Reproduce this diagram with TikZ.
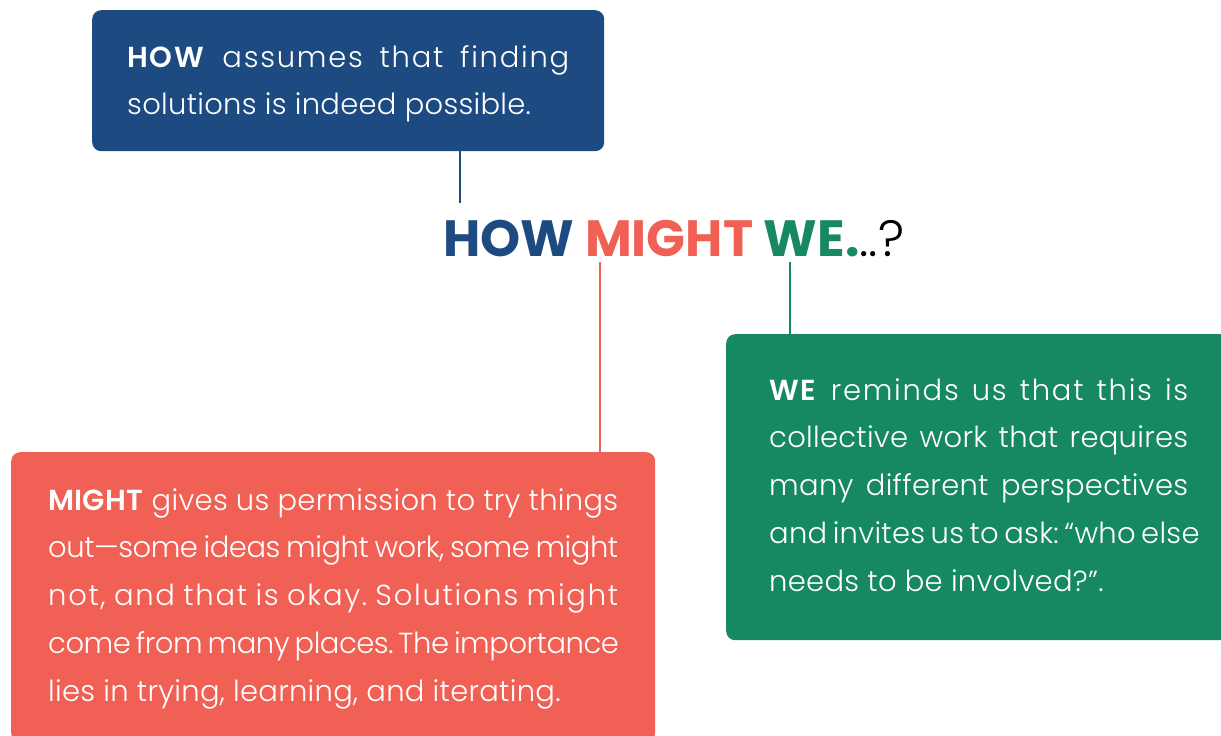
\documentclass[tikz,border=0pt]{standalone}
\usepackage{fontspec}
\setmainfont{Poppins}[UprightFont=* Light, BoldFont=* SemiBold, LetterSpace=1]
\newfontfamily\tightfont{Poppins}[UprightFont=* Light, BoldFont=* SemiBold, LetterSpace=-1.6]
\newfontfamily\widefont{Poppins}[UprightFont=* Light, BoldFont=* SemiBold, LetterSpace=6]
\newfontfamily\titlefont{Poppins}[UprightFont=* Bold]
\newfontfamily\marksfont{Poppins}[UprightFont=* Light]
\definecolor{howblue}{HTML}{1D4A80}
\definecolor{mightred}{HTML}{F06054}
\definecolor{wegreen}{HTML}{178864}
% a justified line of given width, and a closing line at natural width
\newcommand\spreadrow[2]{\hbox to #1{#2}}
\newcommand\lastrow[1]{\hbox{#1}}
\frenchspacing
\begin{document}
\begin{tikzpicture}[x=1pt,y=-1pt,
  panel/.style={rounded corners=9pt, inner sep=0pt, anchor=north west, draw=none},
  body/.style={anchor=base west, inner sep=0pt, text=white,
    font=\fontsize{29}{47.8}\selectfont},
  link/.style={line width=2pt}]
\clip (0,0) rectangle (1221,736);

% coloured panels
\node[panel, fill=howblue, minimum width=512pt, minimum height=141pt] (howbox) at (92,10) {};
\node[panel, fill=mightred, minimum width=644pt, minimum height=290pt] (mightbox) at (11,452) {};
\node[panel, fill=wegreen, minimum width=530pt, minimum height=306pt] (webox) at (726,334) {};

% headline
\node[anchor=base west, inner sep=0pt, font=\titlefont\fontsize{51}{51}\selectfont] (title) at (443,256)
  {\textcolor{howblue}{HOW} \textcolor{mightred}{MIGHT} \textcolor{wegreen}{WE.}{\marksfont..?}};

% panel texts
\node[body] (howtext) at (127,67) {\vtop{%
  \spreadrow{442pt}{\widefont\textbf{HOW} assumes that finding}
  \lastrow{solutions is indeed possible.}}};
\node[body] (mighttext) at (48,510) {\vtop{%
  \spreadrow{570pt}{\textbf{MIGHT} gives us permission to try things}
  \spreadrow{570pt}{\tightfont out—some ideas might work, some might}
  \spreadrow{570pt}{\widefont not, and that is okay. Solutions might}
  \spreadrow{570pt}{\tightfont come from many places. The importance}
  \lastrow{lies in trying, learning, and iterating.}}};
\node[body] (wetext) at (769,400) {\vtop{%
  \spreadrow{419pt}{\widefont\textbf{WE} reminds us that this is}
  \spreadrow{419pt}{collective work that requires}
  \spreadrow{419pt}{many different perspectives}
  \spreadrow{419pt}{and invites us to ask: “who else}
  \lastrow{needs to be involved?”.}}};

% connectors from panels to the headline
\coordinate (howpin) at (460,203);
\coordinate (mightpin) at (600,262);
\coordinate (wepin) at (790,262);
\draw[link, howblue] (howbox.south -| howpin) -- (howpin);
\draw[link, mightred] (mightpin) -- (mightpin |- mightbox.north);
\draw[link, wegreen] (wepin) -- (wepin |- webox.north);
\end{tikzpicture}
\end{document}
